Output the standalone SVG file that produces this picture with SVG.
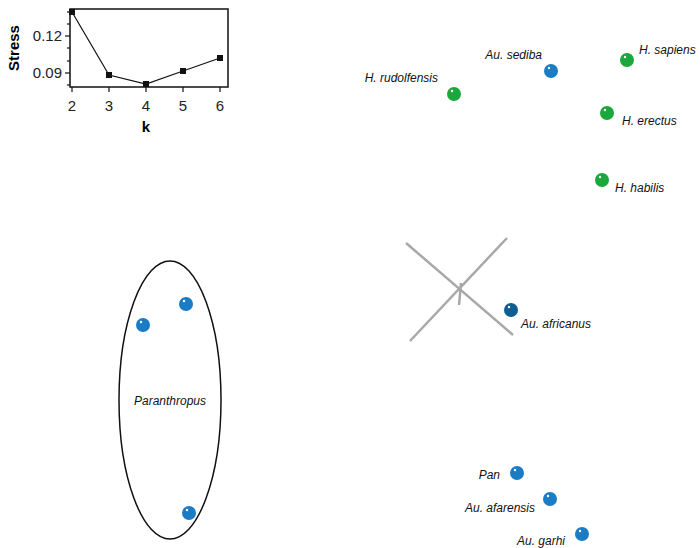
<svg xmlns="http://www.w3.org/2000/svg" width="700" height="548" viewBox="0 0 700 548">
<style>
text{font-family:"Liberation Sans",Arial,sans-serif;}
.lab{font-size:12px;font-style:italic;fill:#111;}
.ax{font-size:15px;fill:#222;}
.b{fill:#1a7cc4;}.g{fill:#1aa83a;}.d{fill:#0e5e94;}
.hl{fill:#fff;}
.cr{stroke:#a8a8a8;stroke-width:2.5;fill:none;}
</style>
<rect width="700" height="548" fill="#fff"/>
<g id="stress-plot">
<rect x="70" y="9" width="158" height="78" fill="none" stroke="#111" stroke-width="1.5"/>
<g stroke="#111" stroke-width="1.2">
<line x1="65" y1="36" x2="70" y2="36"/><line x1="65" y1="73" x2="70" y2="73"/>
<line x1="67" y1="12" x2="70" y2="12"/><line x1="67" y1="24" x2="70" y2="24"/><line x1="67" y1="48" x2="70" y2="48"/><line x1="67" y1="61" x2="70" y2="61"/><line x1="67" y1="85" x2="70" y2="85"/>
<line x1="72" y1="87" x2="72" y2="92"/><line x1="109" y1="87" x2="109" y2="92"/><line x1="146" y1="87" x2="146" y2="92"/><line x1="183" y1="87" x2="183" y2="92"/><line x1="220" y1="87" x2="220" y2="92"/>
</g>
<polyline points="72,12 109,75 146,84 183,71 220,58" fill="none" stroke="#111" stroke-width="1.2"/>
<g fill="#111"><rect x="69" y="9" width="6" height="6"/><rect x="106" y="72" width="6" height="6"/><rect x="143" y="81" width="6" height="6"/><rect x="180" y="68" width="6" height="6"/><rect x="217" y="55" width="6" height="6"/></g>
<g class="ax" text-anchor="middle">
<text x="72" y="111">2</text><text x="109" y="111">3</text><text x="146" y="111">4</text><text x="183" y="111">5</text><text x="220" y="111">6</text>
</g>
<text class="ax" x="62" y="41" text-anchor="end">0.12</text>
<text class="ax" x="62" y="78" text-anchor="end">0.09</text>
<text x="146" y="132" text-anchor="middle" font-size="15" font-weight="bold">k</text>
<text transform="translate(19,48) rotate(-90)" text-anchor="middle" font-size="15" font-weight="bold">Stress</text>
</g>
<g id="connectors">
<line class="cr" x1="406" y1="243" x2="513" y2="335"/>
<line class="cr" x1="410" y1="341" x2="507" y2="238"/>
<line class="cr" x1="461" y1="283" x2="459" y2="305"/>
<ellipse cx="170" cy="400" rx="51" ry="139" fill="none" stroke="#111" stroke-width="1.5"/>
</g>
<g id="paranthropus">
<circle class="b" cx="143" cy="325" r="7"/><circle class="hl" cx="141" cy="322" r="1.2"/>
<circle class="b" cx="186" cy="304" r="7"/><circle class="hl" cx="184" cy="301" r="1.2"/>
<circle class="b" cx="189" cy="513" r="7"/><circle class="hl" cx="187" cy="510" r="1.2"/>
<text class="lab" x="170" y="405" text-anchor="middle">Paranthropus</text>
</g>
<g id="h-rudolfensis"><circle class="g" cx="454" cy="94" r="7"/><circle class="hl" cx="452" cy="91" r="1.2"/><text class="lab" x="438" y="82" text-anchor="end">H. rudolfensis</text></g>
<g id="au-sediba"><circle class="b" cx="551" cy="71" r="7"/><circle class="hl" cx="549" cy="68" r="1.2"/><text class="lab" x="542" y="59" text-anchor="end">Au. sediba</text></g>
<g id="h-sapiens"><circle class="g" cx="627" cy="60" r="7"/><circle class="hl" cx="625" cy="57" r="1.2"/><text class="lab" x="639" y="54">H. sapiens</text></g>
<g id="h-erectus"><circle class="g" cx="607" cy="113" r="7"/><circle class="hl" cx="605" cy="110" r="1.2"/><text class="lab" x="622" y="125">H. erectus</text></g>
<g id="h-habilis"><circle class="g" cx="602" cy="180" r="7"/><circle class="hl" cx="600" cy="177" r="1.2"/><text class="lab" x="615" y="192">H. habilis</text></g>
<g id="au-africanus"><circle class="d" cx="511" cy="310" r="7"/><circle class="hl" cx="509" cy="307" r="1.2"/><text class="lab" x="521" y="328">Au. africanus</text></g>
<g id="pan"><circle class="b" cx="517" cy="473" r="7"/><circle class="hl" cx="515" cy="470" r="1.2"/><text class="lab" x="500" y="479" text-anchor="end">Pan</text></g>
<g id="au-afarensis"><circle class="b" cx="550" cy="499" r="7"/><circle class="hl" cx="548" cy="496" r="1.2"/><text class="lab" x="535" y="512" text-anchor="end">Au. afarensis</text></g>
<g id="au-garhi"><circle class="b" cx="582" cy="534" r="7"/><circle class="hl" cx="580" cy="531" r="1.2"/><text class="lab" x="565" y="545" text-anchor="end">Au. garhi</text></g>
</svg>
